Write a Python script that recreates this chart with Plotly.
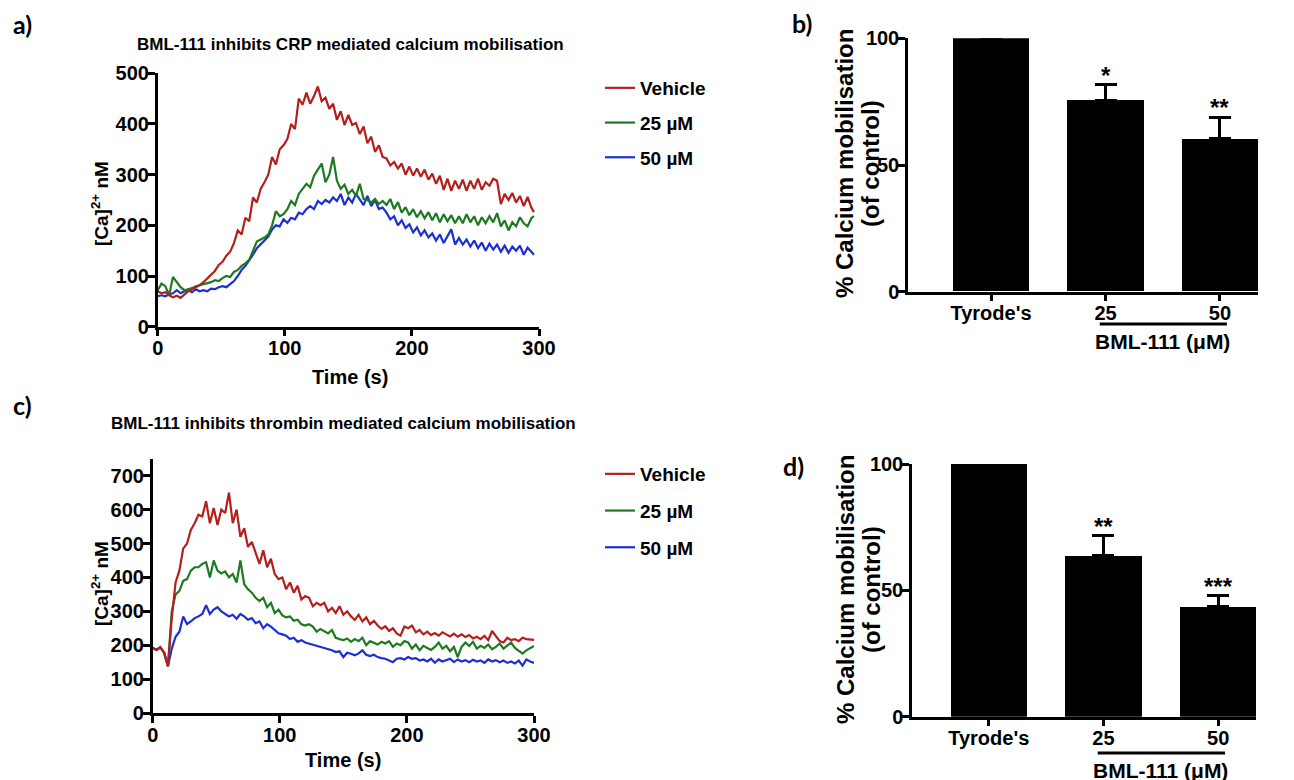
import plotly.graph_objects as go

# ---------------- data ----------------
# panel a: CRP mediated calcium traces, sampled every 3 s (last point at 296 s)
a_time = list(range(0, 295, 3)) + [296]
a_vehicle = [70, 66, 68, 62, 58, 61, 57, 64, 70, 74,
             78, 82, 88, 95, 104, 110, 122, 128, 140, 148,
             165, 190, 182, 215, 208, 255, 245, 272, 285, 300,
             335, 320, 350, 358, 370, 400, 390, 450, 438, 462,
             440, 455, 474, 445, 452, 430, 440, 408, 425, 398,
             418, 398, 402, 380, 395, 362, 375, 345, 358, 335,
             332, 318, 325, 312, 322, 300, 316, 298, 312, 296,
             310, 290, 302, 282, 298, 270, 292, 268, 288, 272,
             290, 268, 288, 272, 292, 270, 285, 278, 292, 288,
             242, 262, 250, 264, 245, 258, 238, 256, 235, 226]
a_25 = [72, 85, 80, 62, 98, 88, 78, 72, 74, 76,
        80, 82, 84, 86, 88, 92, 90, 96, 100, 98,
        108, 112, 120, 125, 132, 150, 168, 172, 176, 182,
        200, 228, 218, 222, 232, 248, 240, 262, 272, 282,
        275, 298, 310, 322, 285, 300, 335, 288, 272, 280,
        262, 270, 258, 282, 252, 250, 245, 252, 242, 248,
        240, 252, 232, 246, 225, 236, 220, 232, 216, 228,
        214, 226, 210, 224, 206, 222, 208, 220, 204, 218,
        204, 222, 206, 218, 200, 216, 204, 218, 206, 224,
        198, 210, 190, 206, 198, 216, 204, 198, 214, 218]
a_50 = [60, 62, 60, 64, 66, 72, 66, 70, 72, 68,
        74, 70, 72, 70, 75, 74, 78, 80, 78, 85,
        90, 100, 112, 120, 130, 142, 155, 162, 170, 178,
        192, 200, 198, 212, 205, 215, 212, 225, 222, 232,
        238, 232, 248, 242, 250, 245, 255, 248, 262, 240,
        255, 245, 262, 250, 240, 258, 238, 250, 232, 235,
        225, 212, 218, 200, 210, 195, 202, 186, 196, 180,
        190, 176, 184, 170, 182, 165, 178, 192, 162, 175,
        162, 172, 158, 170, 155, 166, 150, 164, 152, 162,
        148, 160, 146, 158, 150, 160, 142, 156, 148, 142]

# panel c: thrombin mediated calcium traces, sampled every 3 s
c_time = list(range(0, 301, 3))
c_vehicle = [192, 186, 194, 178, 138, 280, 385, 420, 485, 500,
             540, 560, 585, 580, 625, 560, 605, 555, 600, 590,
             650, 560, 600, 520, 545, 490, 505, 470, 440, 480,
             430, 455, 410, 395, 400, 365, 385, 355, 375, 335,
             345, 340, 315, 325, 318, 325, 300, 310, 295, 315,
             290, 300, 285, 275, 290, 270, 282, 262, 272, 258,
             248, 256, 242, 250, 235, 228, 255, 250, 258, 238,
             245, 232, 240, 230, 236, 228, 238, 232, 226, 234,
             225, 232, 224, 230, 220, 225, 218, 228, 215, 242,
             225, 212, 208, 222, 215, 218, 212, 222, 218, 218,
             216]
c_25 = [192, 186, 194, 178, 138, 300, 350, 360, 390, 395,
        420, 430, 430, 440, 445, 400, 450, 420, 412, 418,
        400, 410, 385, 450, 380, 365, 355, 340, 330, 340,
        312, 325, 295, 305, 288, 282, 285, 272, 275, 262,
        258, 262, 255, 240, 248, 242, 235, 245, 222, 218,
        215, 220, 210, 218, 212, 222, 200, 212, 208, 202,
        210, 205, 212, 195, 205, 200, 212, 208, 190, 202,
        185, 198, 192, 186, 195, 208, 190, 198, 182, 195,
        165, 195, 208, 198, 210, 190, 198, 192, 202, 188,
        195, 205, 190, 200, 208, 192, 182, 175, 185, 192,
        198]
c_50 = [192, 186, 194, 178, 138, 190, 225, 240, 285, 262,
        270, 280, 285, 292, 318, 292, 305, 312, 300, 292,
        285, 290, 278, 292, 285, 275, 280, 265, 270, 250,
        262, 255, 245, 235, 232, 228, 218, 222, 210, 215,
        208, 205, 200, 198, 195, 192, 188, 185, 180, 182,
        165, 178, 175, 170, 176, 185, 172, 168, 172, 165,
        162, 160, 155, 150, 160, 162, 158, 165, 160, 162,
        155, 158, 152, 160, 148, 158, 152, 155, 160, 150,
        158, 152, 156, 150, 157, 152, 155, 148, 158, 152,
        156, 150, 155, 148, 152, 146, 155, 140, 158, 152,
        148]

# panels b and d: % calcium mobilisation (of control), mean and upper SEM
groups = ["Tyrode's", "25", "50"]
b_mean = [100, 75.6, 60.3]
b_sem = [0, 6.0, 8.5]
b_stars = ["", "*", "**"]
d_mean = [100, 63.7, 43.5]
d_sem = [0, 7.9, 4.4]
d_stars = ["", "**", "***"]

series_names = ["Vehicle", "25 \u00b5M", "50 \u00b5M"]
series_colors = ["#b3201c", "#1e7a20", "#1c2fd4"]

# ---------------- figure ----------------
W, H = 1294, 780
OFF = 8  # the page body margin moves the plot by this much
FONT = "Liberation Sans, Arial, sans-serif"


def px(x):
    return (x - OFF) / W


def py(y):
    return 1 - (y - OFF) / H


fig = go.Figure()

# line traces, blue drawn first so the vehicle trace lies on top
for rank, name, color, ya, yc in reversed(list(zip([1, 2, 3], series_names, series_colors,
                                                    [a_vehicle, a_25, a_50],
                                                    [c_vehicle, c_25, c_50]))):
    fig.add_trace(go.Scatter(x=a_time, y=ya, mode='lines', name=name,
                             line=dict(color=color, width=2.2),
                             legendgroup='a' + name, legendrank=rank, legend='legend',
                             xaxis='x', yaxis='y'))
    fig.add_trace(go.Scatter(x=c_time, y=yc, mode='lines', name=name,
                             line=dict(color=color, width=2.2),
                             legendgroup='c' + name, legendrank=rank, legend='legend2',
                             xaxis='x3', yaxis='y3'))

# bar panels
for mean, sem, xa, ya in [(b_mean, b_sem, 'x2', 'y2'), (d_mean, d_sem, 'x4', 'y4')]:
    fig.add_trace(go.Bar(
        x=[0, 1, 2], y=mean, width=0.664,
        marker=dict(color='black', line=dict(width=0)),
        error_y=dict(type='data', array=sem, arrayminus=[0, 0, 0],
                     symmetric=False, thickness=3, width=11, color='black'),
        showlegend=False, xaxis=xa, yaxis=ya,
    ))

axis_common = dict(showline=True, linewidth=2.5, linecolor='black',
                   ticks='outside', ticklen=7, tickwidth=2.5, tickcolor='black',
                   showgrid=False, zeroline=False, ticklabelstandoff=-5,
                   tickfont=dict(family=FONT, size=20, color='black', weight='bold'))

legend_font = dict(family=FONT, size=19, color='black', weight='bold')

fig.update_layout(
    width=W, height=H,
    margin=dict(l=0, r=0, t=0, b=0, autoexpand=False),
    paper_bgcolor='white', plot_bgcolor='white',
    bargap=0,
    xaxis=dict(domain=[px(157.7), px(539)], range=[0, 300], tickvals=[0, 100, 200, 300],
               anchor='y', **axis_common),
    yaxis=dict(domain=[py(326.7), py(73.3)], range=[0, 500], dtick=100,
               anchor='x', **axis_common),
    xaxis2=dict(domain=[px(908), px(1258)], range=[-0.725, 2.332],
                tickvals=[0, 1, 2], ticktext=groups, anchor='y2', **axis_common),
    yaxis2=dict(domain=[py(291.7), py(38.3)], range=[0, 100], tickvals=[0, 50, 100],
                anchor='x2', **axis_common),
    xaxis3=dict(domain=[px(152.7), px(534)], range=[0, 300], tickvals=[0, 100, 200, 300],
                anchor='y3', **axis_common),
    yaxis3=dict(domain=[py(713), py(458.8)], range=[0, 750], tickvals=list(range(0, 701, 100)),
                anchor='x3', **axis_common),
    xaxis4=dict(domain=[px(912), px(1256)], range=[-0.669, 2.33],
                tickvals=[0, 1, 2], ticktext=groups, anchor='y4', **axis_common),
    yaxis4=dict(domain=[py(716.7), py(464)], range=[0, 100], tickvals=[0, 50, 100],
                anchor='x4', **axis_common),
    legend=dict(x=px(600), y=py(69), xanchor='left', yanchor='top',
                traceorder='grouped', tracegroupgap=7, bgcolor='rgba(0,0,0,0)',
                font=legend_font),
    legend2=dict(x=px(600), y=py(455), xanchor='left', yanchor='top',
                 traceorder='grouped', tracegroupgap=9, bgcolor='rgba(0,0,0,0)',
                 font=legend_font),
)

ann = []


def text(x, y, s, size, angle=0, family=FONT):
    ann.append(dict(x=px(x), y=py(y), xref='paper', yref='paper', text=s,
                    showarrow=False, textangle=angle, xanchor='center', yanchor='middle',
                    font=dict(family=family, size=size, color='black', weight='bold')))


# panel letters
for lbl, x, y in [("a)", 22, 24), ("b)", 802, 23), ("c)", 22, 405), ("d)", 793, 466)]:
    text(x, y, lbl, 25, family="Lato, Open Sans, sans-serif")

# titles
text(350, 44, "BML-111 inhibits CRP mediated calcium mobilisation", 17)
text(343, 423, "BML-111 inhibits thrombin mediated calcium mobilisation", 17)

# axis titles
text(350, 377, "Time (s)", 20)
text(343, 760, "Time (s)", 20)
text(100, 204, "[Ca]<sup>2+</sup> nM", 19, angle=-90)
text(100, 584, "[Ca]<sup>2+</sup> nM", 19, angle=-90)
for yc in (164, 590):
    text(845, yc, "% Calcium mobilisation", 24, angle=-90)
    text(871, yc, "(of control)", 24, angle=-90)

# significance stars above the error bars
for mean, sem, stars, xa, ya in [(b_mean, b_sem, b_stars, 'x2', 'y2'),
                                 (d_mean, d_sem, d_stars, 'x4', 'y4')]:
    for i, s in enumerate(stars):
        if s:
            ann.append(dict(x=i, y=mean[i] + sem[i], xref=xa, yref=ya, text=s,
                            showarrow=False, yanchor='bottom', yshift=-6,
                            font=dict(family=FONT, size=24, color='black', weight='bold')))

# BML-111 group bracket
shapes = []
for xa, y_line, y_lbl in [('x2', 324, 341), ('x4', 753, 770)]:
    shapes.append(dict(type='line', xref=xa, yref='paper', x0=0.95, x1=2.06,
                       y0=py(y_line), y1=py(y_line), line=dict(color='black', width=3)))
    ann.append(dict(x=1.5, y=py(y_lbl), xref=xa, yref='paper', text="BML-111 (\u03bcM)",
                    showarrow=False, yanchor='middle',
                    font=dict(family=FONT, size=21, color='black', weight='bold')))

fig.update_layout(annotations=ann, shapes=shapes)

fig.write_html("out.html")
